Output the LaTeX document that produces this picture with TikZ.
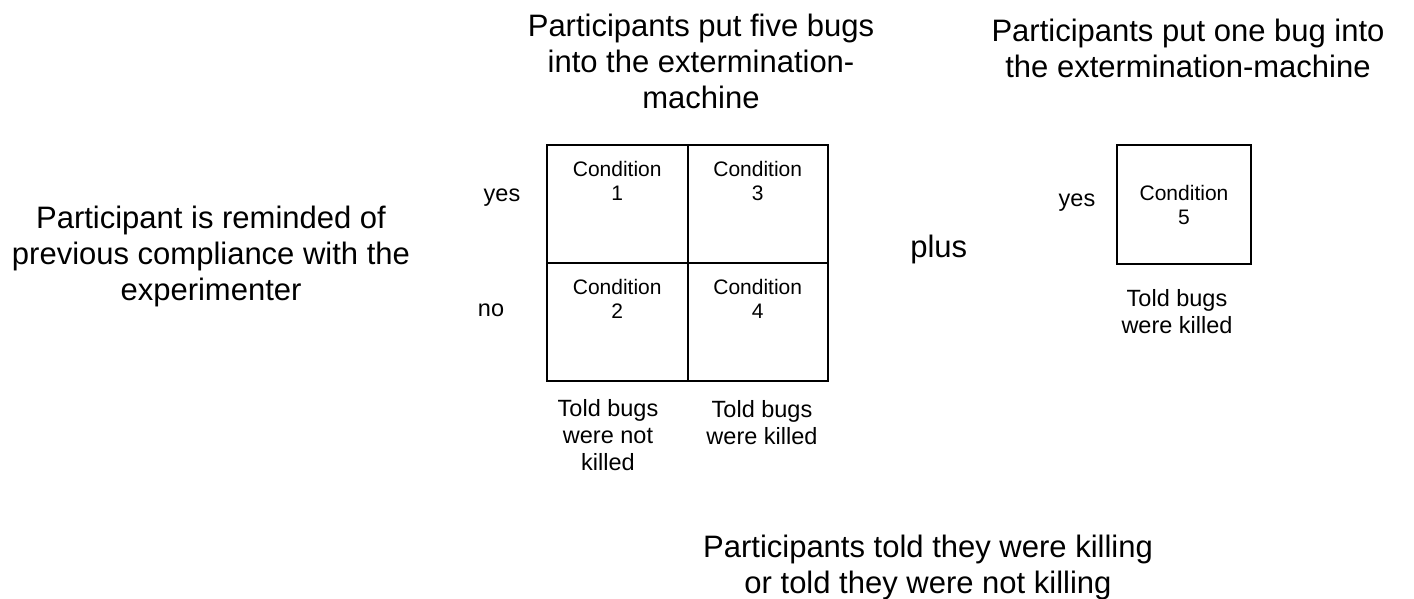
\documentclass[tikz,border=0pt]{standalone}
\usepackage{fontspec}
\setmainfont{Liberation Sans}
\tikzset{
  big/.style={font=\fontsize{31}{35.6}\selectfont, align=center, inner sep=0pt, anchor=base},
  mid/.style={font=\fontsize{23.5}{27}\selectfont, align=center, inner sep=0pt, anchor=base},
  small/.style={font=\fontsize{21}{24}\selectfont, align=center, inner sep=0pt, anchor=base},
  cell/.style={draw, line width=2pt, minimum width=140.5pt, minimum height=118pt, inner sep=0pt},
}
\begin{document}
\begin{tikzpicture}[x=1pt, y=-1pt]
\useasboundingbox (0,0) rectangle (1414,598);
% titles (anchor base = baseline of the last line)
\node[big] (tfive) at (701,108) {Participants put five bugs\\into the extermination-\\machine};
\node[big] (tone) at (1188,77) {Participants put one bug into\\the extermination-machine};
\node[big] (remind) at (211,300) {Participant is reminded of\\previous compliance with the\\experimenter};
\node[big] (plus) at (938.7,257.5) {plus};
\node[big] (told) at (928,593) {Participants told they were killing\\or told they were not killing};
% grid
\node[cell] (c1) at (617.25,204) {};
\node[cell] (c3) at (757.75,204) {};
\node[cell] (c2) at (617.25,322) {};
\node[cell] (c4) at (757.75,322) {};
\node[small] (c1t) at (617.25,200.7) {Condition\\1};
\node[small] (c3t) at (757.75,200.7) {Condition\\3};
\node[small] (c2t) at (617.25,318.7) {Condition\\2};
\node[small] (c4t) at (757.75,318.7) {Condition\\4};
\node[mid] (yes) at (502,201.7) {yes};
\node[mid] (no) at (491,316.7) {no};
\node[mid] (notk) at (608,470.5) {Told bugs\\were not\\killed};
\node[mid] (kill) at (762,444.3) {Told bugs\\were killed};
% condition 5
\node[cell, minimum width=134pt, minimum height=119pt, font=\fontsize{21}{24}\selectfont, align=center] (c5) at (1184,204.5) {Condition\\5};
\node[mid] (yes5) at (1077,206) {yes};
\node[mid] (kill5) at (1177,333.7) {Told bugs\\were killed};
\end{tikzpicture}
\end{document}
